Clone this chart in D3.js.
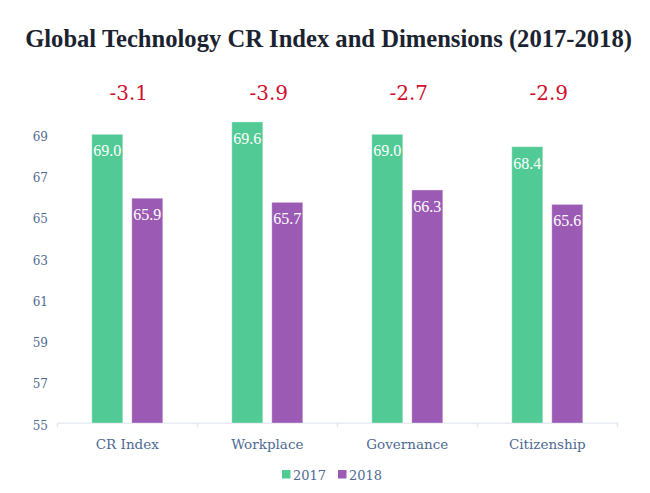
<!DOCTYPE html>
<html>
<head>
<meta charset="utf-8">
<script src="https://cdn.jsdelivr.net/npm/d3@7"></script>
<style>
  body { margin: 0; background: #fff; }
  svg text { font-family: "DejaVu Serif", Georgia, serif; }
</style>
</head>
<body>
<div id="chart"></div>
<script>
// chart data
var categories = ["CR Index", "Workplace", "Governance", "Citizenship"];
var years = ["2017", "2018"];
var values2017 = [69.0, 69.6, 69.0, 68.4];
var values2018 = [65.9, 65.7, 66.3, 65.6];
var changes = ["-3.1", "-3.9", "-2.7", "-2.9"];
var yTicks = [55, 57, 59, 61, 63, 65, 67, 69];

var width = 650, height = 493;
var colors = {"2017": "#52ca95", "2018": "#9b5bb4"};

var svg = d3.select("#chart").append("svg")
    .attr("width", width)
    .attr("height", height);

// scales
var x0 = d3.scaleBand().domain(categories).range([57.3, 617.3]).padding(0);
var x1 = d3.scaleBand().domain(years).range([34.5, 105.5]).paddingInner(0.225);
var y = d3.scaleLinear().domain([55, 69]).range([423, 134.3]);

var data = categories.map(function(c, i) {
  return {cat: c, vals: [{year: "2017", v: values2017[i]}, {year: "2018", v: values2018[i]}], change: changes[i]};
});

// title - sized to fit the same width as the original
var title = svg.append("text")
    .attr("x", 328.5)
    .attr("y", 47)
    .attr("text-anchor", "middle")
    .style("font-family", "Liberation Serif, serif")
    .style("font-weight", "bold")
    .style("font-size", "20px")
    .style("fill", "#1b2330")
    .text("Global Technology CR Index and Dimensions (2017-2018)");
var tw = title.node().getComputedTextLength();
title.style("font-size", (20 * 607 / tw) + "px");

// y axis (labels only)
var yAxis = svg.append("g")
    .attr("transform", "translate(48,0)")
    .call(d3.axisLeft(y).tickValues(yTicks).tickSize(0).tickPadding(0).tickFormat(d3.format("d")));
yAxis.select(".domain").remove();
yAxis.selectAll("text")
    .attr("dy", "0.85em")
    .attr("y", -4)
    .style("font-size", "12px")
    .style("font-family", "DejaVu Serif, serif")
    .style("fill", "#4e6a92");

// x axis
var xAxis = svg.append("g")
    .attr("transform", "translate(0," + 422.7 + ")")
    .call(d3.axisBottom(x0).tickSize(0).tickPadding(17));
xAxis.select(".domain").attr("stroke", "#dde3ec");
xAxis.selectAll("text")
    .style("font-size", "13.5px")
    .style("font-family", "DejaVu Serif, serif")
    .style("fill", "#4e6a92");
// boundary ticks
var bounds = categories.map(function(c) { return x0(c); }).concat([x0.range()[1]]);
xAxis.selectAll(".bound")
    .data(bounds)
    .enter().append("line")
    .attr("x1", function(d) { return d; })
    .attr("x2", function(d) { return d; })
    .attr("y1", 0)
    .attr("y2", 4.5)
    .attr("stroke", "#dde3ec");

// bars
var groups = svg.selectAll(".grp")
    .data(data)
    .enter().append("g")
    .attr("transform", function(d) { return "translate(" + x0(d.cat) + ",0)"; });

groups.selectAll("rect")
    .data(function(d) { return d.vals; })
    .enter().append("rect")
    .attr("x", function(d) { return x1(d.year); })
    .attr("y", function(d) { return y(d.v); })
    .attr("width", x1.bandwidth())
    .attr("height", function(d) { return y(55) - y(d.v); })
    .style("fill", function(d) { return colors[d.year]; })
    .style("stroke", "#ffffff")
    .style("stroke-opacity", 0.35)
    .style("stroke-width", 1);

groups.selectAll(".val")
    .data(function(d) { return d.vals; })
    .enter().append("text")
    .attr("x", function(d) { return x1(d.year) + x1.bandwidth() / 2; })
    .attr("y", function(d) { return y(d.v) + 22; })
    .attr("text-anchor", "middle")
    .style("font-family", "Liberation Serif, serif")
    .style("font-size", "16px")
    .style("fill", "#ffffff")
    .text(function(d) { return d.v.toFixed(1); });

// change labels
groups.append("text")
    .attr("x", x0.bandwidth() / 2 + 1.5)
    .attr("y", 100)
    .attr("text-anchor", "middle")
    .style("font-size", "20px")
    .style("fill", "#d0102c")
    .text(function(d) { return d.change; });

// legend
var legend = svg.append("g");
var legX = [282, 338];
years.forEach(function(yr, i) {
  legend.append("rect")
      .attr("x", legX[i])
      .attr("y", 470)
      .attr("width", 8.5)
      .attr("height", 8.5)
      .style("fill", colors[yr]);
  legend.append("text")
      .attr("x", legX[i] + 11)
      .attr("y", 480)
      .style("font-size", "13px")
      .style("fill", "#4e6a92")
      .text(yr);
});
</script>
</body>
</html>
